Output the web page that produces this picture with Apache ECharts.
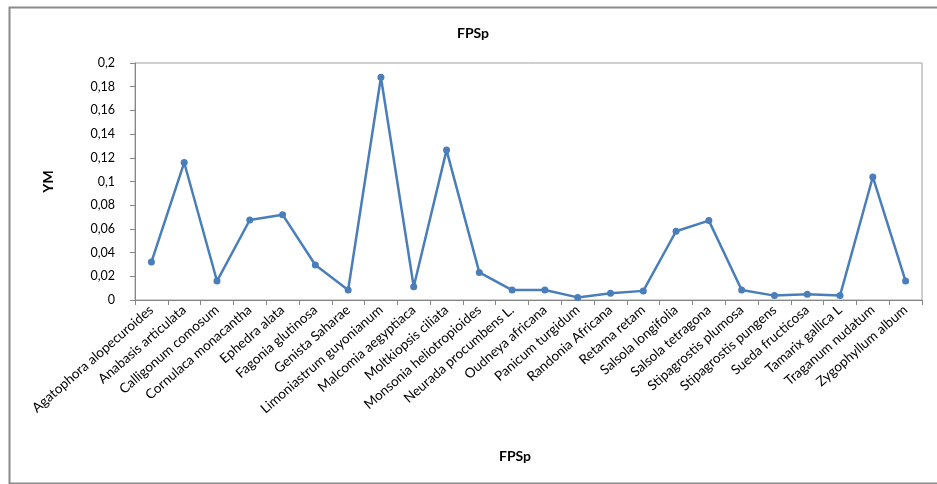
<!DOCTYPE html>
<html>
<head>
<meta charset="utf-8">
<script src="https://cdn.jsdelivr.net/npm/echarts@6/dist/echarts.min.js"></script>
<style>html,body{margin:0;padding:0;background:#fff}#c{width:937px;height:484px}</style>
</head>
<body>
<div id="c"></div>
<script>
const categories = [
  'Agatophora alopecuroides','Anabasis articulata','Calligonum comosum','Cornulaca monacantha',
  'Ephedra alata','Fagonia glutinosa','Genista Saharae','Limoniastrum guyonianum',
  'Malcomia aegyptiaca','Moltkiopsis ciliata','Monsonia heliotropioides','Neurada procumbens L.',
  'Oudneya africana','Panicum turgidum','Randonia Africana','Retama retam',
  'Salsola longifolia','Salsola tetragona','Stipagrostis plumosa','Stipagrostis pungens',
  'Sueda fructicosa','Tamarix gallica L','Traganum nudatum','Zygophyllum album'
];
const ymValues = [
  0.032, 0.116, 0.016, 0.0675,
  0.072, 0.0295, 0.0084, 0.188,
  0.0112, 0.1265, 0.0233, 0.0084,
  0.0084, 0.0022, 0.0056, 0.0077,
  0.058, 0.067, 0.0084, 0.0037,
  0.0048, 0.0037, 0.1038, 0.016
];
const yTicks = { min: 0, max: 0.2, interval: 0.02 };
const chartTitle = 'FPSp';
const xName = 'FPSp';
const yName = 'YM';

const font = 'Lato';
const chart = echarts.init(document.getElementById('c'));
chart.setOption({
  animation: false,
  backgroundColor: '#fff',
  textStyle: { fontFamily: font },
  graphic: [{
    type: 'rect', left: 7, top: 5,
    shape: { width: 940, height: 476 },
    style: { fill: 'none', stroke: '#8a8a8a', lineWidth: 2 }
  }],
  title: [
    { text: chartTitle, left: 468, top: 21, textAlign: 'center',
      textStyle: { fontFamily: font, fontSize: 14, fontWeight: 'bold', color: '#000' } },
    { text: xName, left: 510, top: 444, textAlign: 'center',
      textStyle: { fontFamily: font, fontSize: 14, fontWeight: 'bold', color: '#000' } }
  ],
  grid: { left: 135, right: 15, top: 63, bottom: 184, show: true, borderColor: '#a0a0a0', borderWidth: 1 },
  xAxis: {
    type: 'category',
    data: categories,
    boundaryGap: true,
    axisLine: { lineStyle: { color: '#868686', width: 1 } },
    axisTick: { show: true, length: 5, interval: 0, lineStyle: { color: '#868686' } },
    axisLabel: { interval: 0, rotate: 41, margin: 8, fontSize: 13.5, color: '#000', fontFamily: font }
  },
  yAxis: {
    type: 'value',
    min: yTicks.min, max: yTicks.max, interval: yTicks.interval,
    name: yName, nameLocation: 'middle', nameGap: 80,
    nameTextStyle: { fontSize: 14, fontWeight: 'bold', color: '#000', fontFamily: font },
    axisLine: { show: true, lineStyle: { color: '#868686', width: 1 } },
    axisTick: { show: true, length: 5, lineStyle: { color: '#868686' } },
    splitLine: { show: false },
    axisLabel: {
      margin: 20, fontSize: 12.5, color: '#000', fontFamily: font,
      formatter: v => String(+v.toFixed(2)).replace('.', ',')
    }
  },
  series: [{
    type: 'line',
    data: ymValues,
    symbol: 'circle', symbolSize: 7,
    lineStyle: { color: '#4A7EBB', width: 2.5 },
    itemStyle: { color: '#4A7EBB' }
  }]
});
</script>
</body>
</html>
